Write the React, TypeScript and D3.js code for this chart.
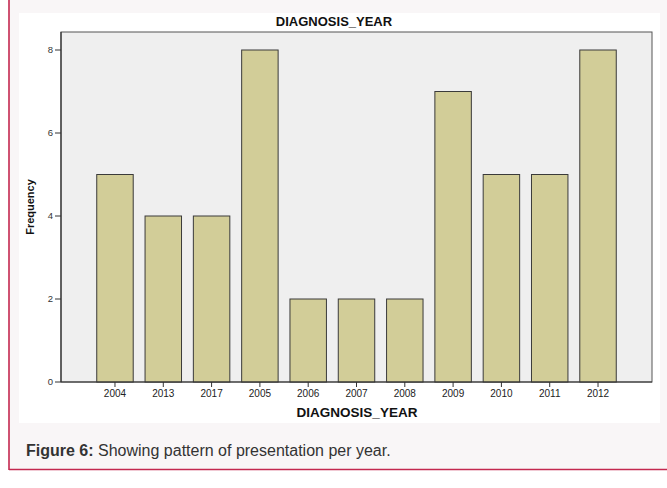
import React from "react";
import * as d3 from "d3";

const categories = ["2004", "2013", "2017", "2005", "2006", "2007", "2008", "2009", "2010", "2011", "2012"];
const frequencies = [5, 4, 4, 8, 2, 2, 2, 7, 5, 5, 8];
const yTicks = [0, 2, 4, 6, 8];
const chartTitle = "DIAGNOSIS_YEAR";
const xTitle = "DIAGNOSIS_YEAR";
const yTitle = "Frequency";

const W = 667;
const H = 488;
const plot = { left: 61, right: 652, top: 32, bottom: 382 };

export default function App() {
  const x = d3
    .scaleBand<string>()
    .domain(categories)
    .range([plot.left, plot.right])
    .paddingInner(0.245)
    .paddingOuter(0.74);
  const y = d3.scaleLinear().domain([0, 8]).range([plot.bottom, 50]);
  const font = "Arial, 'Liberation Sans', Helvetica, sans-serif";

  return (
    <svg
      width={W}
      height={H}
      style={{ position: "absolute", left: 0, top: 0, display: "block" }}
      fontFamily={font}
    >
      <rect x={0} y={0} width={W} height={H} fill="#ffffff" />
      <rect x={9} y={0} width={W - 9} height={470} fill="#f9f6f7" />
      <line x1={9} y1={0} x2={9} y2={470} stroke="#c4284f" strokeWidth={1.6} />
      <line x1={9} y1={469.5} x2={W} y2={469.5} stroke="#c4284f" strokeWidth={1.6} />
      <rect x={19} y={13} width={641} height={410} fill="#ffffff" />
      <rect
        x={plot.left}
        y={plot.top}
        width={plot.right - plot.left}
        height={plot.bottom - plot.top}
        fill="#efefef"
        stroke="#555"
        strokeWidth={1}
      />
      {categories.map((c, i) => (
        <rect
          key={c}
          x={x(c)!}
          y={y(frequencies[i])}
          width={x.bandwidth()}
          height={plot.bottom - y(frequencies[i])}
          fill="#d2cd98"
          stroke="#3a3a3a"
          strokeWidth={1}
        />
      ))}
      <line x1={plot.left} y1={plot.top} x2={plot.left} y2={plot.bottom} stroke="#333" strokeWidth={1.2} />
      <line x1={plot.left} y1={plot.bottom} x2={plot.right} y2={plot.bottom} stroke="#333" strokeWidth={1.2} />
      {yTicks.map((t) => (
        <g key={t}>
          <line x1={plot.left - 6} x2={plot.left} y1={y(t)} y2={y(t)} stroke="#333" />
          <text x={plot.left - 8} y={y(t)} dy="0.35em" textAnchor="end" fontSize={9.5} fill="#333">
            {t}
          </text>
        </g>
      ))}
      {categories.map((c) => {
        const cx = x(c)! + x.bandwidth() / 2;
        return (
          <g key={"t" + c}>
            <line x1={cx} x2={cx} y1={plot.bottom} y2={plot.bottom + 5} stroke="#333" />
            <text x={cx} y={397} textAnchor="middle" fontSize={10} fill="#222">
              {c}
            </text>
          </g>
        );
      })}
      <text x={334} y={26} textAnchor="middle" fontSize={13} fontWeight="bold" fill="#111">
        {chartTitle}
      </text>
      <text x={357} y={417} textAnchor="middle" fontSize={13.5} fontWeight="bold" fill="#111">
        {xTitle}
      </text>
      <text
        transform={`translate(34,207) rotate(-90)`}
        textAnchor="middle"
        fontSize={11}
        fontWeight="bold"
        fill="#111"
      >
        {yTitle}
      </text>
      <text x={26} y={456} fontSize={16} fill="#333">
        <tspan fontWeight="bold">Figure 6:</tspan>
        <tspan> Showing pattern of presentation per year.</tspan>
      </text>
    </svg>
  );
}
